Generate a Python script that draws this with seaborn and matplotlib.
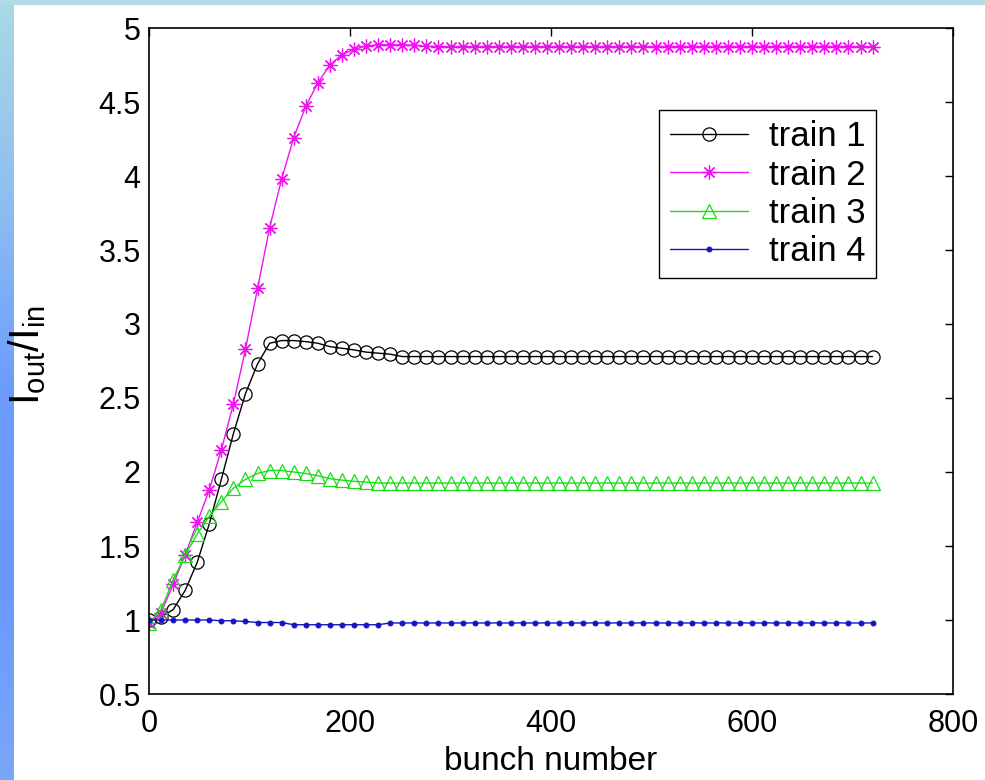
import numpy as np
import matplotlib
matplotlib.use("Agg")
import matplotlib.pyplot as plt
import seaborn as sns
from matplotlib.colors import LinearSegmentedColormap
from matplotlib.ticker import FuncFormatter

# --- DATA ---
bunch = np.arange(0, 721, 12)

train1 = [1.00, 1.02, 1.07, 1.20, 1.39, 1.65, 1.95, 2.26, 2.53, 2.73,
          2.87, 2.888, 2.888, 2.881, 2.87, 2.847, 2.836, 2.825, 2.81, 2.803,
          2.796, 2.78, 2.78, 2.78, 2.78, 2.78, 2.78, 2.78, 2.78, 2.78,
          2.78, 2.78, 2.78, 2.78, 2.78, 2.78, 2.78, 2.78, 2.78, 2.78,
          2.78, 2.78, 2.78, 2.78, 2.78, 2.78, 2.78, 2.78, 2.78, 2.78,
          2.78, 2.78, 2.78, 2.78, 2.78, 2.78, 2.78, 2.78, 2.78, 2.78, 2.78]

train2 = [0.98, 1.05, 1.24, 1.44, 1.66, 1.88, 2.15, 2.46, 2.83, 3.24,
          3.65, 3.98, 4.26, 4.47, 4.63, 4.75, 4.82, 4.856, 4.878, 4.887,
          4.887, 4.887, 4.883, 4.876, 4.875, 4.875, 4.875, 4.875, 4.875, 4.875,
          4.875, 4.875, 4.875, 4.875, 4.875, 4.875, 4.875, 4.875, 4.875, 4.875,
          4.875, 4.875, 4.875, 4.875, 4.875, 4.875, 4.875, 4.875, 4.875, 4.875,
          4.875, 4.875, 4.875, 4.875, 4.875, 4.875, 4.875, 4.875, 4.875, 4.875, 4.875]

train3 = [0.98, 1.07, 1.27, 1.44, 1.58, 1.70, 1.80, 1.89, 1.95, 1.99,
          2.01, 2.01, 2.00, 1.99, 1.975, 1.955, 1.945, 1.937, 1.932, 1.925,
          1.925, 1.925, 1.925, 1.925, 1.925, 1.925, 1.925, 1.925, 1.925, 1.925,
          1.925, 1.925, 1.925, 1.925, 1.925, 1.925, 1.925, 1.925, 1.925, 1.925,
          1.925, 1.925, 1.925, 1.925, 1.925, 1.925, 1.925, 1.925, 1.925, 1.925,
          1.925, 1.925, 1.925, 1.925, 1.925, 1.925, 1.925, 1.925, 1.925, 1.925, 1.925]

train4 = [1.00, 1.00, 1.00, 1.00, 1.00, 1.00, 0.995, 0.995, 0.99, 0.983,
          0.983, 0.983, 0.968, 0.968, 0.968, 0.968, 0.968, 0.968, 0.968, 0.968,
          0.98, 0.98, 0.98, 0.98, 0.98, 0.98, 0.98, 0.98, 0.98, 0.98,
          0.98, 0.98, 0.98, 0.98, 0.98, 0.98, 0.98, 0.98, 0.98, 0.98,
          0.98, 0.98, 0.98, 0.98, 0.98, 0.98, 0.98, 0.98, 0.98, 0.98,
          0.98, 0.98, 0.98, 0.98, 0.98, 0.98, 0.98, 0.98, 0.98, 0.98, 0.98]

labels = ["train 1", "train 2", "train 3", "train 4"]
x_ticks = [0, 200, 400, 600, 800]
y_ticks = [0.5, 1, 1.5, 2, 2.5, 3, 3.5, 4, 4.5, 5]

# --- STYLE ---
sns.set_style("white")
plt.rcParams["font.family"] = ["Liberation Sans", "DejaVu Sans"]
plt.rcParams["mathtext.fontset"] = "custom"
plt.rcParams["mathtext.rm"] = "Liberation Sans"
plt.rcParams["text.color"] = "black"
plt.rcParams["axes.labelcolor"] = "black"
FS = 22

fig = plt.figure(figsize=(9.85, 7.8), dpi=100)
fig.patch.set_facecolor("white")

# background strips (slide decoration)
grad = LinearSegmentedColormap.from_list(
    "bg", ["#aad9e5", "#8fbff0", "#6c9cfd", "#6a99ff", "#7aa6f8"])
bg_left = fig.add_axes([0, 0, 14 / 985, 1])
bg_left.imshow(np.linspace(0, 1, 256).reshape(-1, 1), aspect="auto", cmap=grad)
bg_left.set_axis_off()
bg_top = fig.add_axes([0, 1 - 5 / 780, 1, 5 / 780])
bg_top.set_facecolor("#b3dce6")
bg_top.set_xticks([])
bg_top.set_yticks([])
for s in bg_top.spines.values():
    s.set_visible(False)

ax = fig.add_axes([149 / 985, 1 - 694 / 780, 804 / 985, 666 / 780])

sns.lineplot(x=bunch, y=train1, ax=ax, color="black", lw=1.0, marker="o",
             markersize=9.5, markerfacecolor="none", markeredgecolor="black",
             markeredgewidth=0.9, label=labels[0])
sns.lineplot(x=bunch, y=train2, ax=ax, color="#ee14ee", lw=1.0, marker=(8, 2, 0),
             markersize=10, markeredgecolor="#ee14ee", markeredgewidth=0.9,
             label=labels[1])
sns.lineplot(x=bunch, y=train3, ax=ax, color="#18de18", lw=1.0, marker="^",
             markersize=10, markerfacecolor="none", markeredgecolor="#18de18",
             markeredgewidth=0.9, label=labels[2])
sns.lineplot(x=bunch, y=train4, ax=ax, color="#1515c0", lw=1.0, marker="o",
             markersize=3.5, markerfacecolor="#1515c0", markeredgecolor="#1515c0",
             label=labels[3])

ax.set_xlim(0, 800)
ax.set_ylim(0.5, 5)
ax.set_xticks(x_ticks)
ax.set_yticks(y_ticks)
fmt = FuncFormatter(lambda v, p: f"{v:g}")
ax.xaxis.set_major_formatter(fmt)
ax.yaxis.set_major_formatter(fmt)
ax.tick_params(direction="in", length=6, width=1, top=True, right=True,
               labelsize=FS, colors="black")
ax.tick_params(axis="x", pad=11)
ax.tick_params(axis="y", pad=6)
for s in ax.spines.values():
    s.set_visible(True)
    s.set_color("black")
    s.set_linewidth(1.2)

ax.set_xlabel("bunch number", fontsize=24, labelpad=5)
ax.set_ylabel(r"$\mathregular{I_{out}/I_{in}}$", fontsize=30)
ax.yaxis.set_label_coords(-0.125, 0.509)

leg = ax.legend(loc="upper right", bbox_to_anchor=(0.904, 0.877),
                borderaxespad=0, fontsize=25, frameon=True, fancybox=False,
                framealpha=1, edgecolor="black", handlelength=2.25,
                labelspacing=0.15, borderpad=0.3, handletextpad=0.6)
leg.get_frame().set_linewidth(1.0)

fig.savefig("out.png", dpi=100)
